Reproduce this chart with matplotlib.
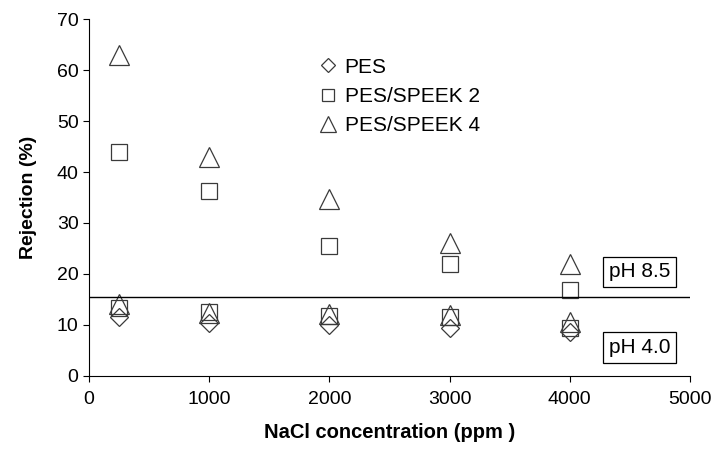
import numpy as np
import matplotlib
matplotlib.use("Agg")
import matplotlib.pyplot as plt

plt.rcParams['font.family'] = ['Liberation Sans', 'DejaVu Sans']

# NaCl concentration (ppm)
conc = [250, 1000, 2000, 3000, 4000]

# rejection (%) at pH 4.0
pes_ph4 = [11.5, 10.3, 10.0, 9.3, 8.5]
speek2_ph4 = [13.2, 12.6, 11.8, 11.6, 9.4]
speek4_ph4 = [14.0, 12.3, 12.2, 12.0, 10.6]

# rejection (%) at pH 8.5
speek2_ph85 = [44.0, 36.3, 25.5, 22.0, 16.8]
speek4_ph85 = [63.0, 42.9, 34.8, 26.0, 22.0]

divider = 15.5

fig = plt.figure(figsize=(7.14, 4.51), dpi=100)
ax = fig.add_axes([0.1246, 0.167, 0.9664 - 0.1246, 0.957 - 0.167])

ec = '#3a3a3a'
style = dict(linestyle='none', markerfacecolor='none', markeredgecolor=ec, markeredgewidth=0.9)

ax.plot(conc, pes_ph4, marker='D', markersize=9, label='PES', **style)
ax.plot(conc, speek2_ph4, marker='s', markersize=11.5, label='PES/SPEEK 2', **style)
ax.plot(conc, speek4_ph4, marker='^', markersize=14, label='PES/SPEEK 4', **style)
ax.plot(conc, speek2_ph85, marker='s', markersize=11.5, **style)
ax.plot(conc, speek4_ph85, marker='^', markersize=14, **style)

ax.axhline(divider, color='black', linewidth=1.0)

ax.set_xlim(0, 5000)
ax.set_ylim(0, 70)
ax.set_xticks(np.arange(0, 5001, 1000))
ax.set_yticks(np.arange(0, 71, 10))
ax.spines['top'].set_visible(False)
ax.spines['right'].set_visible(False)
ax.tick_params(axis='x', pad=7)
ax.tick_params(direction='out', length=4, labelsize=14, colors='black')
ax.set_xlabel('NaCl concentration (ppm )', fontsize=14.5, fontweight='bold', labelpad=11)
ax.set_ylabel('Rejection (%)', fontsize=14, fontweight='bold', labelpad=14)

box = dict(boxstyle='square,pad=0.28', facecolor='white', edgecolor='black', linewidth=0.9)
ax.text(4580, 20.4, 'pH 8.5', fontsize=15, ha='center', va='center', bbox=box)
ax.text(4580, 5.6, 'pH 4.0', fontsize=15, ha='center', va='center', bbox=box)

leg = ax.legend(loc='upper left', bbox_to_anchor=(0.37, 0.916), frameon=False,
                fontsize=15, labelspacing=0.5, handlelength=0.8, handletextpad=0.4,
                markerscale=0.8, borderaxespad=0)

fig.savefig('out.png', dpi=100)
